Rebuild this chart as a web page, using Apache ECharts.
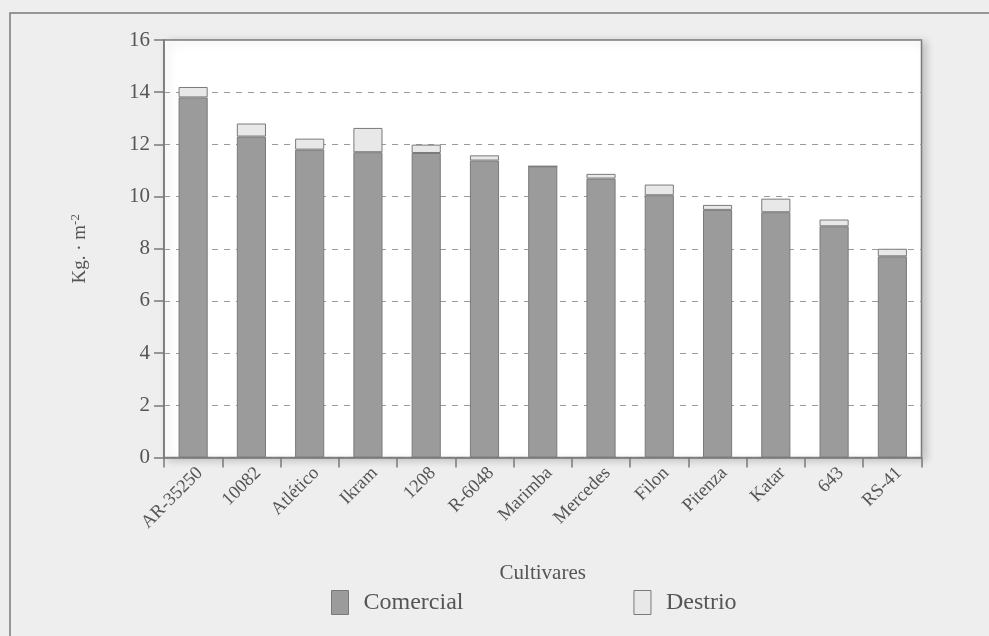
<!DOCTYPE html>
<html>
<head>
<meta charset="utf-8">
<script src="https://cdn.jsdelivr.net/npm/echarts@6/dist/echarts.min.js"></script>
<style>
html,body{margin:0;padding:0;background:#eeeeee;}
#c{width:989px;height:636px;}
</style>
</head>
<body>
<div id="c"></div>
<script>
const categories = ['AR-35250','10082','Atlético','Ikram','1208','R-6048','Marimba','Mercedes','Filon','Pitenza','Katar','643','RS-41'];
const comercial = [13.8, 12.3, 11.8, 11.7, 11.67, 11.38, 11.16, 10.69, 10.05, 9.49, 9.4, 8.86, 7.71];
const destrio = [0.4, 0.5, 0.42, 0.93, 0.32, 0.2, 0.0, 0.18, 0.41, 0.19, 0.52, 0.26, 0.29];
const yTicks = [0, 2, 4, 6, 8, 10, 12, 14, 16];

const FONT = '"Liberation Serif", "DejaVu Serif", serif';
const TXT = '#555';
const chart = echarts.init(document.getElementById('c'));
chart.setOption({
  backgroundColor: '#eeeeee',
  animation: false,
  textStyle: { fontFamily: FONT, color: TXT },
  graphic: [{
    type: 'rect', silent: true, z: -1,
    shape: { x: 10, y: 13, width: 1000, height: 700 },
    style: { fill: 'none', stroke: '#7a7a7a', lineWidth: 1.5 }
  }],
  grid: {
    show: true, left: 164, top: 40, right: 67.5, bottom: 178.5,
    backgroundColor: '#ffffff', borderColor: '#7a7a7a', borderWidth: 1.5,
    shadowColor: 'rgba(0,0,0,0.18)', shadowBlur: 8, shadowOffsetX: 4, shadowOffsetY: 2
  },
  legend: {
    left: 326, top: 585, icon: 'rect', itemWidth: 17, itemHeight: 24, itemGap: 170,
    itemStyle: { borderColor: '#7a7a7a', borderWidth: 1 },
    textStyle: { fontFamily: FONT, fontSize: 24, color: TXT, padding: [0, 0, 0, 10] },
    data: ['Comercial', 'Destrio']
  },
  xAxis: {
    type: 'category', data: categories,
    name: 'Cultivares', nameLocation: 'middle', nameGap: 105,
    nameTextStyle: { fontFamily: FONT, fontSize: 21, color: TXT },
    axisLine: { lineStyle: { color: '#7a7a7a', width: 1.5 } },
    axisTick: { show: true, length: 10, lineStyle: { color: '#7a7a7a', width: 1.5 } },
    axisLabel: { rotate: 45, fontFamily: FONT, fontSize: 18.5, color: TXT, margin: 6, interval: 0, verticalAlign: 'top' }
  },
  yAxis: {
    type: 'value', min: 0, max: 16, interval: 2,
    name: '{a|Kg. · m}{s|-2}', nameLocation: 'middle', nameGap: 73, nameRotate: 90,
    nameTextStyle: {
      rich: {
        a: { fontFamily: FONT, fontSize: 19, color: TXT },
        s: { fontFamily: FONT, fontSize: 13, color: TXT, verticalAlign: 'top', padding: [0, 0, 9, 0] }
      }
    },
    axisLine: { show: true, lineStyle: { color: '#7a7a7a', width: 1.5 } },
    axisTick: { show: true, length: 10, lineStyle: { color: '#7a7a7a', width: 1.5 } },
    axisLabel: {
      fontFamily: FONT, fontSize: 21, color: TXT, margin: 14,
      formatter: v => yTicks.includes(v) ? String(v) : ''
    },
    splitLine: { show: true, lineStyle: { color: '#9a9a9a', type: [6, 6], width: 1 } }
  },
  series: [
    {
      name: 'Comercial', type: 'bar', stack: 'total', data: comercial, barWidth: '50%',
      itemStyle: { color: '#9b9b9b', borderColor: '#7a7a7a', borderWidth: 1 }
    },
    {
      name: 'Destrio', type: 'bar', stack: 'total', data: destrio, barWidth: '50%',
      itemStyle: { color: '#e8e8e8', borderColor: '#7a7a7a', borderWidth: 1 }
    }
  ]
});
</script>
</body>
</html>
